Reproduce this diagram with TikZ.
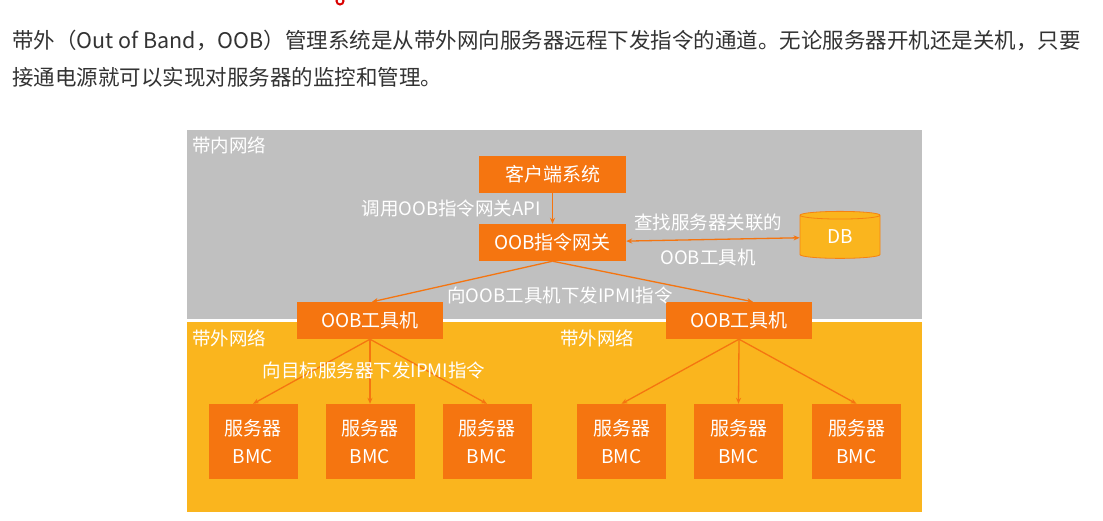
\documentclass[tikz,border=0pt]{standalone}
\usepackage{fontspec}
\setmainfont{Noto Sans CJK SC}
\usetikzlibrary{arrows.meta,shapes.geometric}
\definecolor{boxorange}{HTML}{F57510}
\definecolor{bandyellow}{HTML}{FAB51E}
\definecolor{bandgray}{HTML}{C0C0C0}
\definecolor{textgray}{HTML}{333333}
\begin{document}
\begin{tikzpicture}[x=1pt,y=-1pt,unit/.style={rectangle,fill=boxorange,text=white,inner sep=0pt,font=\fontsize{19}{23}\selectfont},bmc/.style={unit,minimum width=89pt,minimum height=75pt,align=center,font=\fontsize{19}{28}\selectfont},tool/.style={unit,minimum width=146pt,minimum height=37pt},zone/.style={text=white,anchor=west,inner sep=0pt,font=\fontsize{18.5}{22}\selectfont},flow/.style={draw=boxorange,line width=1.3pt,-{Stealth[length=6pt,width=5pt]}}]
\useasboundingbox (0,0) rectangle (1103,521);
\fill[white] (0,0) rectangle (1103,521);
\begin{scope}
\clip (0,0) rectangle (1103,521);
\draw[red!85!black,line width=2pt] (340,1) circle (3.5);
\end{scope}
\node[anchor=west,inner sep=0pt,text=textgray,font=\fontsize{21.5}{26}\selectfont] (line1) at (12,40) {带外（Out of Band，OOB）管理系统是从带外网向服务器远程下发指令的通道。无论服务器开机还是关机，只要};
\node[anchor=west,inner sep=0pt,text=textgray,font=\fontsize{21.5}{26}\selectfont] (line2) at (12,77) {接通电源就可以实现对服务器的监控和管理。};
\fill[bandgray] (187,130) rectangle (922,319);
\fill[bandyellow] (187,322) rectangle (922,512);
\node[zone] (inband) at (192,145) {带内网络};
\node[zone] (oobl) at (192,338) {带外网络};
\node[zone] (oobr) at (560,338) {带外网络};
\coordinate (C) at (552.5,174.5);
\coordinate (G) at (552.5,242.5);
\coordinate (D) at (840,237);
\coordinate (TL) at (370,320.5);
\coordinate (TR) at (739,320.5);
\node[unit,minimum width=147pt,minimum height=37pt] (client) at (C) {客户端系统};
\node[unit,minimum width=147pt,minimum height=37pt] (gateway) at (G) {OOB指令网关};
\node[cylinder,shape border rotate=90,aspect=0.3,draw=boxorange!80!bandyellow,line width=0.8pt,fill=bandyellow,text=white,minimum width=80pt,minimum height=47pt,inner sep=0pt,font=\fontsize{19}{23}\selectfont] (db) at (D) {DB};
\draw[flow] (client) -- (gateway);
\draw[flow,{Stealth[length=6pt,width=5pt]}-{Stealth[length=6pt,width=5pt]}] (gateway) -- (db);
\node[zone,anchor=east] at (541,208) {调用OOB指令网关API};
\node[zone,anchor=center] at (708,223) {查找服务器关联的};
\node[zone,anchor=center] at (708,257) {OOB工具机};
\node[tool] (toolL) at (TL) {OOB工具机};
\node[tool] (toolR) at (TR) {OOB工具机};
\draw[flow] (gateway.south) -- ([xshift=2pt]toolL.north);
\draw[flow] (gateway.south) -- ([xshift=14pt]toolR.north);
\node[zone,anchor=center] at (560,295) {向OOB工具机下发IPMI指令};
\foreach \i/\x in {1/253,2/370,3/487} {
\node[bmc] (bmcL\i) at (\x,441.5) {服务器\\BMC};
\draw[flow] (toolL.south) -- (bmcL\i.north);
}
\foreach \i/\x in {1/621.5,2/738.5,3/856.5} {
\node[bmc] (bmcR\i) at (\x,441.5) {服务器\\BMC};
\draw[flow] (toolR.south) -- (bmcR\i.north);
}
\node[zone,anchor=center] at (374,370) {向目标服务器下发IPMI指令};
\end{tikzpicture}
\end{document}
